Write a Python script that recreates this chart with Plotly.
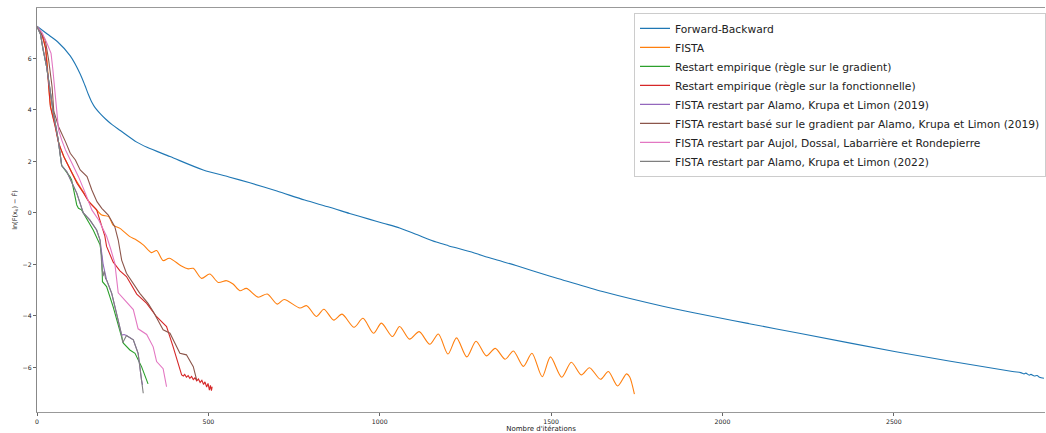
import plotly.graph_objects as go

# ---------------- data ----------------
fb_x = [0, 30, 60, 97, 126, 140, 150, 160, 170, 185, 200, 220, 243, 291, 321, 388, 485,
        560, 621, 700, 781, 854, 912, 971, 1010, 1058, 1110, 1165, 1200, 1262, 1330,
        1400, 1495, 1534, 1650, 1826, 2078, 2224, 2506, 2846, 2870, 2880, 2885, 2895,
        2900, 2910, 2918, 2925, 2938]
fb_y = [7.25, 6.95, 6.65, 6.1, 5.4, 4.95, 4.6, 4.3, 4.08, 3.85, 3.65, 3.42, 3.2, 2.75,
        2.55, 2.19, 1.67, 1.4, 1.17, 0.85, 0.5, 0.22, -0.02, -0.25, -0.4, -0.58, -0.85,
        -1.13, -1.27, -1.5, -1.78, -2.05, -2.45, -2.6, -3.05, -3.62, -4.3, -4.67, -5.39,
        -6.16, -6.2, -6.25, -6.22, -6.3, -6.27, -6.33, -6.31, -6.38, -6.42]

fista_x = [0, 15, 25, 32, 39, 53, 63, 78, 97, 117, 136, 151, 170, 189, 209, 222, 242, 271,
           290, 310, 334, 349, 368, 386, 420, 441, 456, 480, 504, 529, 553, 572, 592, 611,
           645, 672, 701, 721, 767, 787, 815, 837, 866, 890, 925, 951, 982, 1005, 1037,
           1058, 1087, 1115, 1146, 1171, 1199, 1224, 1254, 1281, 1311, 1337, 1366, 1390,
           1419, 1444, 1474, 1498, 1531, 1559, 1588, 1612, 1644, 1667, 1694, 1720, 1729,
           1743]
fista_y = [7.25, 6.9, 6.4, 5.4, 4.2, 3.4, 2.75, 2.2, 1.7, 1.2, 0.8, 0.45, 0.18, -0.08,
           -0.14, -0.47, -0.6, -0.92, -1.05, -1.24, -1.54, -1.46, -1.85, -1.76, -2.05,
           -2.17, -2.15, -2.54, -2.37, -2.7, -2.63, -2.76, -3.02, -2.93, -3.27, -3.15,
           -3.54, -3.36, -3.69, -3.6, -4.02, -3.74, -4.16, -3.93, -4.44, -4.09, -4.67,
           -4.28, -4.8, -4.41, -4.9, -4.61, -5.1, -4.7, -5.48, -4.85, -5.59, -4.98, -5.55,
           -5.26, -5.68, -5.36, -5.96, -5.45, -6.36, -5.59, -6.38, -5.8, -6.29, -6.01,
           -6.46, -6.16, -6.72, -6.25, -6.36, -7.04]

grad_x = [0, 10, 18, 28, 38, 48, 62, 72, 96, 101, 116, 121, 130, 146, 164, 184, 189, 191,
          203, 222, 242, 252, 271, 286, 305, 324]
grad_y = [7.25, 6.95, 6.33, 5.68, 4.78, 3.87, 2.83, 1.84, 1.41, 1.28, 0.31, 0.18, 0.12,
          -0.27, -0.66, -1.24, -1.7, -2.67, -2.86, -3.64, -4.54, -5.06, -5.32, -5.45,
          -5.97, -6.64]

func_x = [0, 15, 25, 32, 39, 53, 63, 78, 97, 117, 136, 151, 174, 184, 198, 203, 222, 242,
          261, 291, 320, 349, 378, 397, 410, 422, 427, 431, 436, 441, 446, 451, 456, 461,
          466, 471, 476, 481, 486, 490, 495, 499, 503, 506, 509, 511]
func_y = [7.25, 6.9, 6.4, 5.4, 4.13, 3.35, 2.71, 2.19, 1.67, 1.15, 0.77, 0.44, 0.12, -0.27,
          -0.9, -1.3, -1.9, -2.25, -2.47, -3.15, -3.51, -4.03, -4.41, -5.19, -5.8, -6.29,
          -6.33, -6.27, -6.38, -6.32, -6.42, -6.35, -6.47, -6.4, -6.52, -6.45, -6.58,
          -6.5, -6.66, -6.56, -6.76, -6.62, -6.88, -6.7, -6.9, -6.75]

ak19_x = [0, 10, 18, 28, 38, 48, 62, 72, 87, 116, 135, 154, 174, 184, 193, 203, 218, 232,
          247, 254, 261, 281, 295, 305, 308]
ak19_y = [7.25, 6.95, 6.33, 5.68, 4.78, 3.87, 2.83, 1.84, 1.6, 0.77, 0.0, -0.27, -0.66,
          -1.05, -2.0, -2.6, -3.12, -3.9, -4.74, -4.72, -4.76, -4.93, -5.45, -6.49, -6.68]

akgrad_x = [0, 12, 24, 34, 44, 49, 63, 83, 97, 112, 126, 146, 160, 175, 189, 208, 227,
            237, 247, 261, 281, 300, 324, 339, 368, 388, 417, 436, 456, 466]
akgrad_y = [7.25, 7.0, 6.72, 5.94, 4.9, 3.95, 3.35, 2.77, 2.32, 2.06, 1.67, 1.41, 0.89,
            0.44, 0.18, -0.08, -0.53, -1.05, -1.83, -2.34, -2.73, -3.12, -3.51, -3.83,
            -4.54, -4.67, -5.45, -5.51, -5.97, -6.49]

adlr_x = [0, 15, 29, 41, 46, 49, 53, 58, 63, 73, 83, 102, 121, 141, 160, 180, 203, 215,
          227, 237, 261, 281, 295, 320, 339, 349, 368, 378]
adlr_y = [7.25, 7.0, 6.59, 6.2, 5.6, 5.17, 4.39, 3.7, 3.22, 2.8, 2.45, 1.93, 1.41, 0.77,
          0.12, -0.27, -0.9, -1.4, -1.95, -3.1, -3.45, -3.75, -4.5, -4.72, -5.2, -5.77,
          -6.05, -6.75]

ak22_x = [0, 10, 18, 28, 38, 48, 62, 72, 87, 116, 135, 154, 174, 184, 190, 193, 196, 200,
          203, 218, 232, 247, 250, 256, 261, 281, 295, 305, 310]
ak22_y = [7.25, 6.95, 6.33, 5.68, 4.78, 3.87, 2.83, 1.84, 1.6, 0.77, 0.0, -0.27, -0.66,
          -1.05, -2.2, -2.45, -2.25, -2.55, -2.6, -3.12, -3.9, -4.74, -5.04, -4.9, -4.76,
          -4.93, -5.45, -6.49, -7.0]

names = [
    "Forward-Backward",
    "FISTA",
    "Restart empirique (règle sur le gradient)",
    "Restart empirique (règle sur la fonctionnelle)",
    "FISTA restart par Alamo, Krupa et Limon (2019)",
    "FISTA restart basé sur le gradient par Alamo, Krupa et Limon (2019)",
    "FISTA restart par Aujol, Dossal, Labarrière et Rondepierre",
    "FISTA restart par Alamo, Krupa et Limon (2022)",
]
colors = ["#1f77b4", "#ff7f0e", "#2ca02c", "#d62728",
          "#9467bd", "#8c564b", "#e377c2", "#7f7f7f"]
series = [(fb_x, fb_y, "spline"), (fista_x, fista_y, "spline"),
          (grad_x, grad_y, "linear"), (func_x, func_y, "linear"),
          (ak19_x, ak19_y, "linear"), (akgrad_x, akgrad_y, "linear"),
          (adlr_x, adlr_y, "linear"), (ak22_x, ak22_y, "linear")]

x_ticks = [0, 500, 1000, 1500, 2000, 2500]
y_ticks = [-6, -4, -2, 0, 2, 4, 6]

# ---------------- figure ----------------
fig = go.Figure()
for (xs, ys, shape), name, col in zip(series, names, colors):
    fig.add_trace(go.Scatter(x=xs, y=ys, mode="lines", name=name,
                             line=dict(color=col, width=1.1, shape=shape, smoothing=0.8)))

font = "DejaVu Sans, Arial, sans-serif"
fig.update_layout(
    width=1046, height=433,
    margin=dict(l=37, r=0, t=8, b=21),
    paper_bgcolor="white", plot_bgcolor="white",
    font=dict(family=font, color="#222"),
    showlegend=True,
    legend=dict(x=0.592, y=0.988, xanchor="left", yanchor="top",
                bgcolor="rgba(255,255,255,0.8)", bordercolor="#ccc", borderwidth=1,
                font=dict(size=10.7, family=font, color="#222"),
                itemwidth=30, tracegroupgap=0),
    xaxis=dict(range=[0, 2941], tickvals=x_ticks, ticks="outside", ticklen=3,
               tickwidth=1, tickcolor="#666", showgrid=False, zeroline=False,
               showline=True, linecolor="#999", linewidth=1.2, mirror=True,
               tickfont=dict(size=6.2, color="#222"), automargin=False,
               title=dict(text="Nombre d'itérations", font=dict(size=7), standoff=2)),
    yaxis=dict(range=[-7.73, 7.96], tickvals=y_ticks, ticks="outside", ticklen=3,
               tickwidth=1, tickcolor="#666", showgrid=False, zeroline=False,
               showline=True, linecolor="#888", linewidth=1.2, mirror=False,
               tickfont=dict(size=6.2, color="#222"), automargin=False,
               title=dict(text="ln(F(x<sub>k</sub>) − F\u0302)", font=dict(size=6.5),
                          standoff=4)),
)

fig.write_html("out.html",
               config={"displayModeBar": False},
               post_script="document.body.style.margin='0';document.body.style.overflow='hidden';")
